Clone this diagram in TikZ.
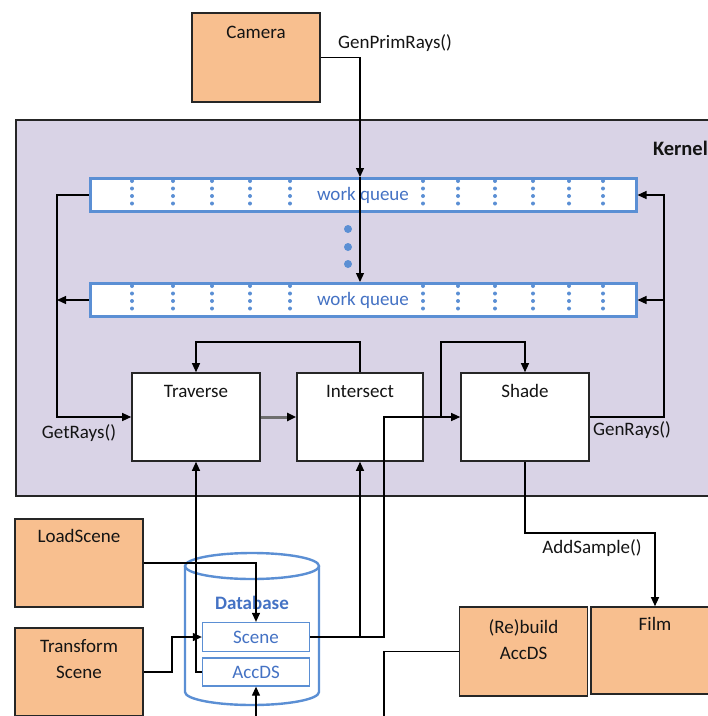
\documentclass[tikz,border=0pt]{standalone}
\usepackage{fontspec}
\setmainfont{Carlito}
\usetikzlibrary{arrows.meta}
\definecolor{kfill}{HTML}{D9D3E6}
\definecolor{ofill}{HTML}{F8BF8F}
\definecolor{boxline}{HTML}{262626}
\definecolor{qblue}{HTML}{5B8FD4}
\definecolor{qtext}{HTML}{4472C4}
\definecolor{txt}{HTML}{141414}
\definecolor{gline}{HTML}{6E6E6E}
\begin{document}
\begin{tikzpicture}[x=1pt,y=-1pt,
  box/.style={draw=boxline, line width=1.6pt, minimum width=128pt, minimum height=89pt, inner sep=0pt},
  obox/.style={box, fill=ofill},
  wbox/.style={box, fill=white},
  queue/.style={draw=qblue, line width=3pt, fill=white, minimum width=546pt, minimum height=33pt,
    inner sep=0pt, text=qtext, font=\fontsize{19}{24}\selectfont},
  dbbox/.style={draw=qblue, line width=1.3pt, fill=white, minimum width=107pt, minimum height=28pt,
    inner sep=0pt, text=qtext, font=\fontsize{19}{24}\selectfont},
  title/.style={font=\fontsize{19}{26}\selectfont, text=txt, align=center, inner sep=0pt},
  lbl/.style={font=\fontsize{19}{24}\selectfont, text=txt, inner sep=0pt},
  wire/.style={line width=1.2pt, draw=black},
  arr/.style={wire, -{Triangle[length=9pt,width=8pt]}},
  garr/.style={line width=3pt, draw=gline, -{Triangle[length=9pt,width=8pt,color=black]}},
  qdot/.style={fill=qblue},
]
\useasboundingbox (0,0) rectangle (708,716);

% kernel region
\node[draw=boxline, fill=kfill, line width=1.6pt, anchor=north west,
      minimum width=720pt, minimum height=376pt, inner sep=0pt] (kernel) at (15,119) {};
\node[font=\bfseries\fontsize{20.5}{24}\selectfont, text=txt, anchor=east, inner sep=0pt] (kernT) at (708,148) {Kernel};

% camera
\node[obox] (cam) at (256,57.5) {};
\node[title, yshift=-20pt] (camT) at (cam.north) {Camera};
\node[lbl] (gprT) at (395,43) {GenPrimRays()};

% work queues
\node[queue] (q1) at (363,195) {work queue};
\node[queue] (q2) at (363,300) {work queue};
\foreach \x in {132,173,212,250,290,423,458,495,533,569,603}
  \foreach \d in {-14,-6.5,1,8.5} {
    \fill[qdot] (\x,{195+\d}) circle[radius=2pt];
    \fill[qdot] (\x,{300+\d}) circle[radius=2pt];
  }
\foreach \y in {229,247,264}
  \fill[qdot] (348,\y) circle[radius=4pt];

% kernel stages
\node[wbox, minimum width=128pt, minimum height=88pt] (trav) at (196,417) {};
\node[title, yshift=-19pt] (travT) at (trav.north) {Traverse};
\node[wbox, minimum width=126pt, minimum height=88pt] (inter) at (360,417) {};
\node[title, yshift=-19pt] (interT) at (inter.north) {Intersect};
\node[wbox, minimum width=128pt, minimum height=88pt] (shade) at (525,417) {};
\node[title, yshift=-19pt] (shadeT) at (shade.north) {Shade};
\node[lbl] (grT) at (79,433) {GetRays()};
\node[lbl] (gnT) at (632,430) {GenRays()};

% scene input boxes
\node[obox, minimum height=88pt] (load) at (79,563) {};
\node[title, yshift=-18pt] (loadT) at (load.north) {LoadScene};
\node[obox, minimum height=88pt] (trans) at (79,672) {};
\node[title, yshift=-32pt] (transT) at (trans.north) {Transform\\Scene};

% database cylinder
\draw[draw=qblue, line width=2.4pt, fill=white]
  (185,566) -- (185,692) arc[start angle=180, end angle=0, x radius=67, y radius=13] -- (319,566);
\draw[draw=qblue, line width=2.4pt, fill=white] (252,566) ellipse[x radius=67, y radius=13];
\node[font=\bfseries\fontsize{19}{24}\selectfont, text=qtext, inner sep=0pt] (dbT) at (252,603) {Database};
\node[dbbox, minimum height=29pt] (scene) at (256,637) {Scene};
\node[dbbox] (acc) at (256,672) {AccDS};

% output boxes
\node[obox] (reb) at (523.5,651.5) {};
\node[title, yshift=-33pt] (rebT) at (reb.north) {(Re)build\\AccDS};
\node[obox, minimum height=87pt] (film) at (655,650.5) {};
\node[title, yshift=-18pt] (filmT) at (film.north) {Film};
\node[lbl] (asT) at (592,548) {AddSample()};

% routing helpers
\coordinate (lbus) at (57,0);
\coordinate (rbus) at (664,0);
\coordinate (loopy) at (0,342);
\coordinate (jx) at (384,0);
\coordinate (sx) at (441,0);
\coordinate (tx) at (172,0);
\coordinate (asy) at (0,533);
\coordinate (bot) at (0,720);

% connectors
\draw[arr] (cam.east) -| (q1.north -| inter.north);
\draw[arr] (q1.north -| inter.north) -- (q2.north -| inter.north);
\draw[arr] (q1.west) -- (q1.west -| lbus) |- (trav.west);
\draw[arr] (q2.west) -- (q2.west -| lbus);
\draw[arr] (shade.east) -| (rbus |- q1.east) -- (q1.east);
\draw[arr] (rbus |- q2.east) -- (q2.east);
\draw[garr] (trav.east) -- (inter.west);
\draw[arr] (inter.north) -- (inter.north |- loopy) -| (trav.north);
\draw[arr] (scene.east) -| (jx |- shade.west) -- (shade.west);
\draw[arr] (scene.east -| inter.south) -- (inter.south);
\draw[arr] (sx |- shade.west) -- (sx |- loopy) -| (shade.north);
\draw[arr] (acc.west) -| (trav.south);
\draw[arr] (load.east) -| (scene.north);
\draw[arr] (trans.east) -| (tx |- scene.west) -- (scene.west);
\draw[arr] (acc.south |- bot) -- (acc.south);
\draw[wire] (reb.west) -| (jx |- bot);
\draw[arr] (shade.south) -- (shade.south |- asy) -| (film.north);
\end{tikzpicture}
\end{document}
